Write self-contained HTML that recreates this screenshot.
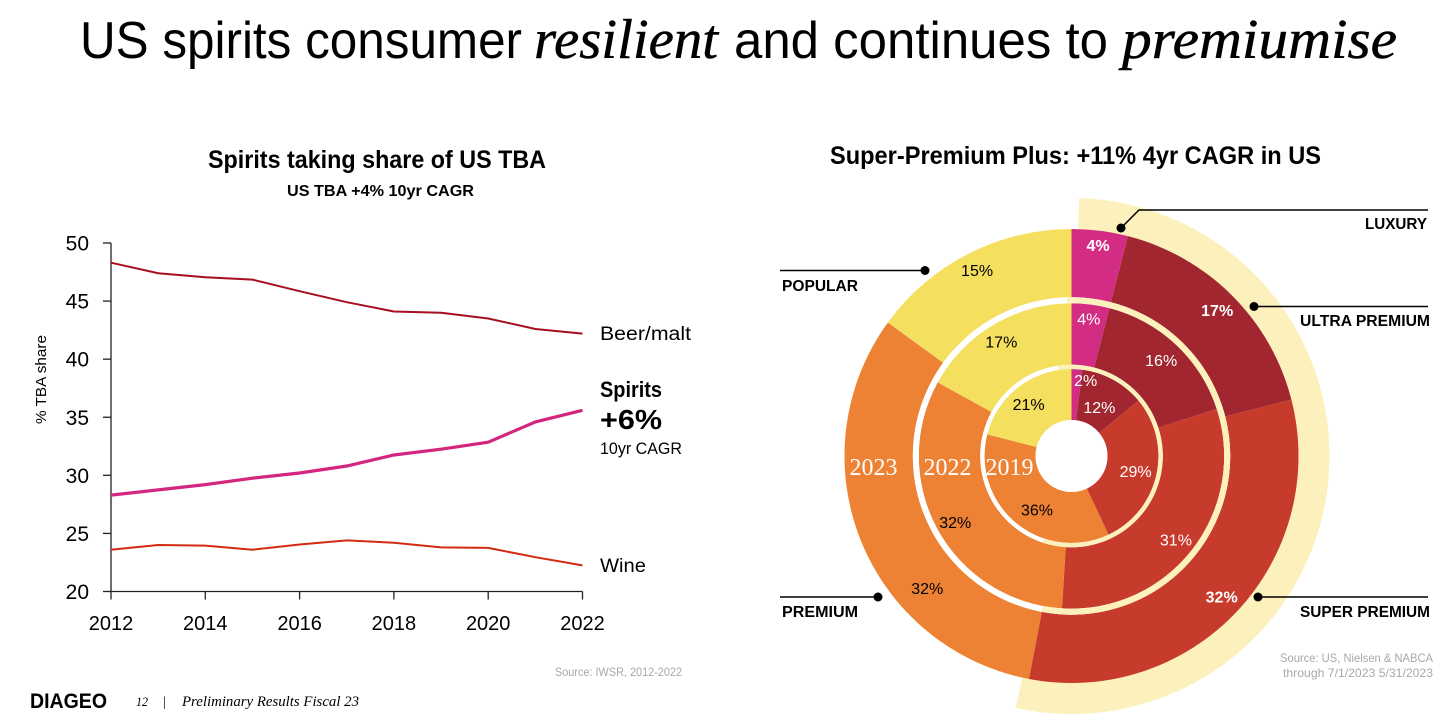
<!DOCTYPE html>
<html lang="en">
<head>
<meta charset="utf-8">
<title>US spirits consumer resilient and continues to premiumise</title>
<style>
html,body{margin:0;padding:0;background:#fff;width:1456px;height:720px;overflow:hidden}
svg{display:block}
text{font-family:"Liberation Sans",sans-serif;fill:#000}
.serif{font-family:"Liberation Serif",serif}
</style>
</head>
<body>
<svg id="slide" width="1456" height="720" viewBox="0 0 1456 720" xmlns="http://www.w3.org/2000/svg">
  <g>
    <text x="80" y="58" font-size="52" textLength="442" lengthAdjust="spacingAndGlyphs">US spirits consumer</text>
    <text class="serif" x="534" y="58" font-size="56" font-style="italic" stroke="#000" stroke-width="0.5" textLength="184" lengthAdjust="spacingAndGlyphs">resilient</text>
    <text x="734" y="58" font-size="52" textLength="374" lengthAdjust="spacingAndGlyphs">and continues to</text>
    <text class="serif" x="1122" y="58" font-size="56" font-style="italic" stroke="#000" stroke-width="0.5" textLength="275" lengthAdjust="spacingAndGlyphs">premiumise</text>
  </g>

  <g id="line-chart">
    <text x="208" y="168" font-size="25" font-weight="700" textLength="338" lengthAdjust="spacingAndGlyphs">Spirits taking share of US TBA</text>
    <text x="287" y="196" font-size="15.5" font-weight="700" textLength="187" lengthAdjust="spacingAndGlyphs">US TBA +4% 10yr CAGR</text>
    <text transform="translate(46,424) rotate(-90)" font-size="15" textLength="89" lengthAdjust="spacingAndGlyphs">% TBA share</text>
    <g id="axes"></g>
    <g id="series"></g>
    <text x="600" y="340" font-size="19" textLength="91" lengthAdjust="spacingAndGlyphs">Beer/malt</text>
    <text x="600" y="397" font-size="22" font-weight="700" textLength="62" lengthAdjust="spacingAndGlyphs">Spirits</text>
    <text x="600" y="429" font-size="28" font-weight="700" textLength="62" lengthAdjust="spacingAndGlyphs">+6%</text>
    <text x="600" y="454" font-size="17" textLength="82" lengthAdjust="spacingAndGlyphs">10yr CAGR</text>
    <text x="600" y="572" font-size="19" textLength="46" lengthAdjust="spacingAndGlyphs">Wine</text>
    <text x="555" y="676" font-size="12" style="fill:#a8a8a8" textLength="127" lengthAdjust="spacingAndGlyphs">Source: IWSR, 2012-2022</text>
  </g>

  <g id="donut-chart">
    <text x="830" y="164" font-size="25" font-weight="700" textLength="491" lengthAdjust="spacingAndGlyphs">Super-Premium Plus: +11% 4yr CAGR in US</text>
    <g id="donut"></g>

    <g>
      <polyline points="1121,228 1139,210 1428,210" fill="none" stroke="#000" stroke-width="1.5"/>
      <circle cx="1121" cy="228" r="4.5" fill="#000"/>
      <text x="1365" y="229" font-size="16" font-weight="700" textLength="62" lengthAdjust="spacingAndGlyphs">LUXURY</text>
    </g>
    <g>
      <line x1="1254" y1="306.500" x2="1428" y2="306.500" stroke="#000" stroke-width="1.5"/>
      <circle cx="1254" cy="306.500" r="4.500" fill="#000"/>
      <text x="1300" y="326" font-size="16" font-weight="700" textLength="130" lengthAdjust="spacingAndGlyphs">ULTRA PREMIUM</text>
    </g>
    <g>
      <line x1="1258" y1="597" x2="1428" y2="597" stroke="#000" stroke-width="1.5"/>
      <circle cx="1258" cy="597" r="4.500" fill="#000"/>
      <text x="1300" y="617" font-size="16" font-weight="700" textLength="130" lengthAdjust="spacingAndGlyphs">SUPER PREMIUM</text>
    </g>
    <g>
      <line x1="780" y1="597" x2="878" y2="597" stroke="#000" stroke-width="1.5"/>
      <circle cx="878" cy="597" r="4.500" fill="#000"/>
      <text x="782" y="617" font-size="16" font-weight="700" textLength="76" lengthAdjust="spacingAndGlyphs">PREMIUM</text>
    </g>
    <g>
      <line x1="780" y1="270.500" x2="925" y2="270.500" stroke="#000" stroke-width="1.5"/>
      <circle cx="925" cy="270.500" r="4.500" fill="#000"/>
      <text x="782" y="291" font-size="16" font-weight="700" textLength="76" lengthAdjust="spacingAndGlyphs">POPULAR</text>
    </g>
    <text x="1280" y="662" font-size="12" style="fill:#a8a8a8" textLength="153" lengthAdjust="spacingAndGlyphs">Source: US, Nielsen &amp; NABCA</text>
    <text x="1283" y="677" font-size="12" style="fill:#a8a8a8" textLength="150" lengthAdjust="spacingAndGlyphs">through 7/1/2023 5/31/2023</text>
  </g>

  <g>
    <text x="30" y="708" font-size="21" font-weight="700" textLength="77" lengthAdjust="spacingAndGlyphs">DIAGEO</text>
    <text class="serif" x="136" y="706" font-size="13" font-style="italic" textLength="12" lengthAdjust="spacingAndGlyphs">12</text>
    <text class="serif" x="163" y="706" font-size="14">|</text>
    <text class="serif" x="182" y="706" font-size="14.500" font-style="italic" textLength="177" lengthAdjust="spacingAndGlyphs">Preliminary Results Fiscal 23</text>
  </g>
</svg>

<script>
// Line chart data
const years = [2012, 2013, 2014, 2015, 2016, 2017, 2018, 2019, 2020, 2021, 2022];
const beerMalt = [48.3, 47.4, 47.05, 46.85, 45.85, 44.9, 44.1, 44.0, 43.5, 42.6, 42.2];
const spirits = [28.3, 28.75, 29.2, 29.75, 30.2, 30.8, 31.75, 32.25, 32.85, 34.6, 35.6];
const wine = [23.6, 24.0, 23.95, 23.6, 24.05, 24.4, 24.2, 23.8, 23.75, 22.95, 22.25];
const yTickLabels = [20, 25, 30, 35, 40, 45, 50];
const xTickLabels = [2012, 2014, 2016, 2018, 2020, 2022];

// Donut chart data (share %, clockwise from luxury to popular)
const tiers = ['luxury', 'ultra-premium', 'super-premium', 'premium', 'popular'];
const ringYears = ['2023', '2022', '2019'];
const share2023 = [4, 17, 32, 32, 15];
const share2022 = [4, 16, 31, 32, 17];
const share2019 = [2, 12, 29, 36, 21];

const NS = 'http://www.w3.org/2000/svg';
function make(tag, parent, props) {
  const el = document.createElementNS(NS, tag);
  for (const k in props) el.setAttribute(k, props[k]);
  parent.appendChild(el);
  return el;
}

// Axis functions
const xScale = v => 111 + (v - 2012) * (582.5 - 111) / 10;
const yScale = v => 591.5 - (v - 20) * (591.5 - 243) / 30;

const axes = document.getElementById('axes');
const yAxisLine = make('line', axes, {x1: xScale(2012), x2: xScale(2012), y1: yScale(50), y2: yScale(20), stroke: '#222', 'stroke-width': 1.3});


const xAxisLine = make('line', axes, {x1: xScale(2012), x2: xScale(2022), y1: yScale(20), y2: yScale(20), stroke: '#222', 'stroke-width': 1.3});



yTickLabels.forEach(v => {
  const tick = make('line', axes, {x1: xScale(2012) - 8, x2: xScale(2012), y1: yScale(v), y2: yScale(v), stroke: '#222', 'stroke-width': 1.3});
  
  
  const label = make('text', axes, {x: 89, y: yScale(v) + 7.5, 'text-anchor': 'end', 'font-size': 21});
  
  
  label.textContent = v;
});
xTickLabels.forEach(v => {
  const tick = make('line', axes, {x1: xScale(v), x2: xScale(v), y1: yScale(20), y2: yScale(20) + 8, stroke: '#222', 'stroke-width': 1.3});
  
  
  const label = make('text', axes, {x: xScale(v), y: 630, 'text-anchor': 'middle', 'font-size': 20});
  
  
  label.textContent = v;
});

const seriesGroup = document.getElementById('series');
function pointsFor(values) {
  return values.map((v, i) => xScale(years[i]).toFixed(1) + ',' + yScale(v).toFixed(1)).join(' ');
}
const beerLine = make('polyline', seriesGroup, {points: pointsFor(beerMalt), fill: 'none', stroke: '#a50f20', 'stroke-width': 2});


const spiritsLine = make('polyline', seriesGroup, {points: pointsFor(spirits), fill: 'none', stroke: '#d4257f', 'stroke-width': 3.2});


const wineLine = make('polyline', seriesGroup, {points: pointsFor(wine), fill: 'none', stroke: '#d42a12', 'stroke-width': 2});



// Donut geometry
const CX = 1071.5, CY = 456;
const polar = (r, deg) => {
  const a = (deg - 90) * Math.PI / 180;
  return [CX + r * Math.cos(a), CY + r * Math.sin(a)];
};
function annular(r0, r1, a0, a1) {
  const large = a1 - a0 > 180 ? 1 : 0;
  const p = polar(r1, a0), q = polar(r1, a1), s = polar(r0, a1), t = polar(r0, a0);
  return 'M' + p[0] + ' ' + p[1] + 'A' + r1 + ' ' + r1 + ' 0 ' + large + ' 1 ' + q[0] + ' ' + q[1] +
    'L' + s[0] + ' ' + s[1] + 'A' + r0 + ' ' + r0 + ' 0 ' + large + ' 0 ' + t[0] + ' ' + t[1] + 'Z';
}

const donut = document.getElementById('donut');
const tierColors = ['#d22d82', '#a1262f', '#c63b2b', '#ed8235', '#f4df5f'];
const tierText = ['#fff', '#fff', '#fff', '#000', '#000'];
const creamColor = '#fcf0bc';
const creamStart = 1.7, creamEnd = 192.5;

const cream = make('path', donut, {d: annular(220, 258, creamStart, creamEnd), fill: creamColor});



const ringShapes = [
  {shares: share2023, outer: 227, inner: 158.7, labelR: 208, bold: [true, true, true, false, false],
   nudge: [[0, 4], [0, -2], [0, -2], [-21, -12], [0, 0]], yearX: 873.5},
  {shares: share2022, outer: 152.7, inner: 91.3, labelR: 134, bold: [false, false, false, false, false],
   nudge: [[0, 4], [0, -3], [1, 0], [-1, 0], [-1, 0]], yearX: 947.5},
  {shares: share2019, outer: 87, inner: 36, labelR: 64, bold: [false, false, false, false, false],
   nudge: [[7, 13], [1, -8], [1, 2], [-7, 0], [-2, 3]], yearX: 1009.5}
];

ringShapes.forEach((ring, ringIndex) => {
  const total = ring.shares.reduce((a, b) => a + b, 0);
  let angle = 0;
  const labelQueue = [];
  ring.shares.forEach((value, i) => {
    const sweep = value / total * 360;
    const wedge = make('path', donut, {d: annular(ring.inner, ring.outer, angle, angle + sweep), fill: tierColors[i]});
    
    
    const mid = angle + sweep / 2 + ring.nudge[i][0];
    const pos = polar(ring.labelR + ring.nudge[i][1], mid);
    labelQueue.push({value, i, pos});
    angle += sweep;
  });
  labelQueue.forEach(item => {
    const label = make('text', donut, {x: item.pos[0], y: item.pos[1] + 5.5, 'text-anchor': 'middle', 'font-size': 16,
      'font-weight': ring.bold[item.i] ? 700 : 400, style: 'fill:' + tierText[item.i]});
    
    
    label.textContent = item.value + '%';
  });
  const yearLabel = make('text', donut, {x: ring.yearX, y: 475, 'text-anchor': 'middle', 'font-size': 24, class: 'serif', style: 'fill:#fff'});
  
  
  yearLabel.textContent = ringYears[ringIndex];
});

// Separator rings: white, with the cream highlight carried across the right side
[[158.7, 152.7, -1.6, 191], [91.3, 87, -9, 199]].forEach(band => {
  const whiteBand = make('circle', donut, {cx: CX, cy: CY, r: (band[0] + band[1]) / 2, fill: 'none', stroke: '#fff', 'stroke-width': band[0] - band[1]});
  
  
  const creamBand = make('path', donut, {d: annular(band[1], band[0], band[2], band[3]), fill: creamColor});
  
  
});

const hole = make('circle', donut, {cx: CX, cy: CY, r: 36, fill: '#fff'});


</script>
</body>
</html>
